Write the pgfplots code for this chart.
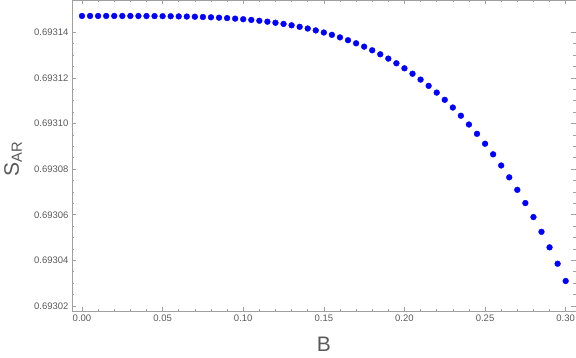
\documentclass[border=0pt]{standalone}
\usepackage{fontspec}
\setmainfont{Liberation Sans}
\usepackage{pgfplots}
\pgfplotsset{compat=1.18}
\definecolor{framegray}{RGB}{160,160,160}
\definecolor{labgray}{RGB}{90,90,90}
\begin{document}
\begin{tikzpicture}
\begin{axis}[at={(0,0)},anchor=south west,
  scale only axis,width=504pt,height=311pt,
  xmin=-0.0062,xmax=0.3064,ymin=0.6930178,ymax=0.6931542,
  axis line style={framegray,line width=0.8pt},
  tick style={framegray,line width=0.6pt},
  tick align=inside,
  major tick length=4.5pt,minor tick length=2.5pt,
  xtick={0,0.05,0.10,0.15,0.20,0.25,0.30},minor x tick num=4,
  ytick={0.69302,0.69304,0.69306,0.69308,0.69310,0.69312,0.69314},minor y tick num=3,
  scaled x ticks=false,scaled y ticks=false,
  xticklabel style={/pgf/number format/.cd,fixed,fixed zerofill,precision=2,assume math mode=true},
  yticklabel style={/pgf/number format/.cd,fixed,fixed zerofill,precision=5,assume math mode=true},
  ticklabel style={font=\fontsize{9.5}{11}\selectfont,text=labgray},
  xlabel={B},ylabel={S\textsubscript{AR}},
  every axis x label/.style={at={(axis description cs:0.5,0)},anchor=center,yshift=-33pt,
    font=\fontsize{21}{23}\selectfont,text=labgray},
  every axis y label/.style={at={(axis description cs:-0.117,0.49)},anchor=center,rotate=90,
    font=\fontsize{21}{23}\selectfont,text=labgray},
]
\addplot[only marks,mark=*,mark size=2.9pt,color={rgb,255:red,0;green,0;blue,255}] table {
x y
0.000 0.69314720
0.005 0.69314720
0.010 0.69314720
0.015 0.69314720
0.020 0.69314720
0.025 0.69314719
0.030 0.69314719
0.035 0.69314718
0.040 0.69314716
0.045 0.69314714
0.050 0.69314711
0.055 0.69314707
0.060 0.69314701
0.065 0.69314694
0.070 0.69314686
0.075 0.69314675
0.080 0.69314661
0.085 0.69314645
0.090 0.69314626
0.095 0.69314603
0.100 0.69314577
0.105 0.69314546
0.110 0.69314510
0.115 0.69314469
0.120 0.69314422
0.125 0.69314370
0.130 0.69314310
0.135 0.69314243
0.140 0.69314169
0.145 0.69314086
0.150 0.69313994
0.155 0.69313892
0.160 0.69313780
0.165 0.69313656
0.170 0.69313521
0.175 0.69313374
0.180 0.69313214
0.185 0.69313039
0.190 0.69312850
0.195 0.69312645
0.200 0.69312424
0.205 0.69312186
0.210 0.69311929
0.215 0.69311654
0.220 0.69311358
0.225 0.69311042
0.230 0.69310704
0.235 0.69310344
0.240 0.69309959
0.245 0.69309550
0.250 0.69309115
0.255 0.69308652
0.260 0.69308162
0.265 0.69307643
0.270 0.69307094
0.275 0.69306513
0.280 0.69305900
0.285 0.69305253
0.290 0.69304571
0.295 0.69303853
0.300 0.69303096
};
\end{axis}
\pgfresetboundingbox
\path (-72pt,-47pt) rectangle (504pt,311pt);
\end{tikzpicture}
\end{document}
